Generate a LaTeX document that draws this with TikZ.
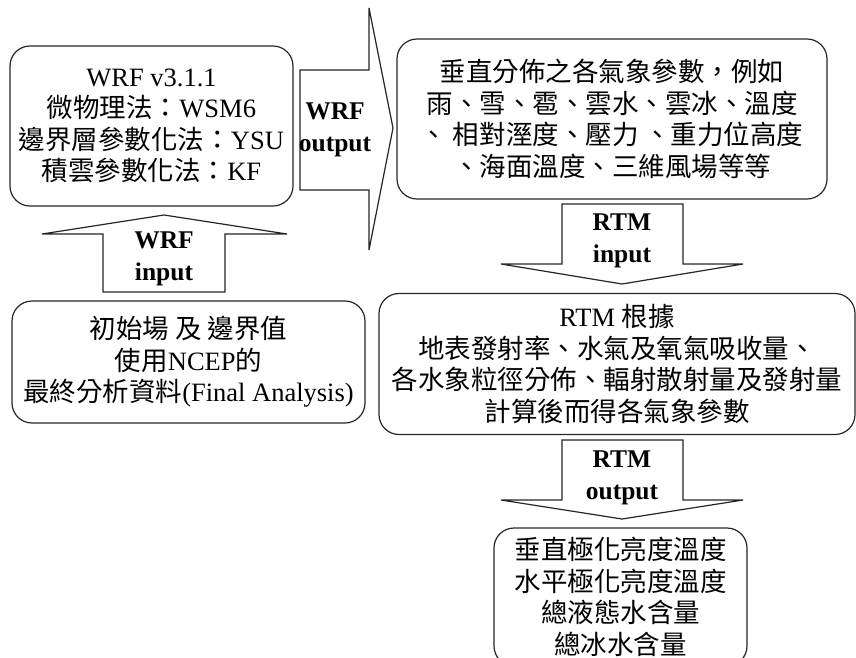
\documentclass[tikz,border=0pt]{standalone}
\usepackage{fontspec}
\setmainfont{Liberation Serif}
\newfontfamily\cjk{Noto Sans CJK TC}
\begin{document}
\begin{tikzpicture}[x=1pt,y=-1pt,
  box/.style={draw=black!85, rounded corners=20pt, line width=1.2pt, align=center,
    font=\fontsize{26.5}{31.5}\selectfont, inner sep=0pt},
  blockarrow/.style={draw=black!85, line width=1.2pt, fill=white, line join=miter},
  lbl/.style={font=\fontsize{25.5}{31.5}\selectfont\bfseries, align=center, inner sep=0pt}]
\useasboundingbox (0,0) rectangle (856,657);

% boxes
\node[box, minimum width=283pt, minimum height=160pt] (wrf) at (151.5,126)
  {WRF v3.1.1\\{\cjk 微物理法：}WSM6\\{\cjk 邊界層參數化法：}YSU\\{\cjk 積雲參數化法：}KF};
\node[box, minimum width=353pt, minimum height=122pt] (init) at (188.5,362)
  {{\cjk 初始場 及 邊界值}\\{\cjk 使用}NCEP{\cjk 的}\\{\cjk 最終分析資料}(Final Analysis)};
\node[box, minimum width=430pt, minimum height=160pt] (vert) at (612,119)
  {{\cjk 垂直分佈之各氣象參數，例如}\\{\cjk 雨、雪、雹、雲水、雲冰、溫度}\\{\cjk 、 相對溼度、壓力 、重力位高度}\\{\cjk 、海面溫度、三維風場等等}};
\node[box, minimum width=476pt, minimum height=141pt] (rtm) at (617,364)
  {RTM {\cjk 根據}\\{\cjk 地表發射率、水氣及氧氣吸收量、}\\{\cjk 各水象粒徑分佈、輻射散射量及發射量}\\{\cjk 計算後而得各氣象參數}};
\node[box, minimum width=253pt, minimum height=138pt] (out) at (620.5,597)
  {{\cjk 垂直極化亮度溫度}\\{\cjk 水平極化亮度溫度}\\{\cjk 總液態水含量}\\{\cjk 總冰水含量}};

% block arrows
\draw[blockarrow] (300,70) -- (369,70) -- (369,8) -- (393,128) -- (369,250) -- (369,190) -- (300,190) -- cycle;
\node[lbl] (wrfout) at (335,130) {WRF\\output};

\draw[blockarrow] (103,292) -- (103,234) -- (42,234) -- (164,215) -- (287,234) -- (225,234) -- (225,292) -- cycle;
\node[lbl] (wrfin) at (164,259) {WRF\\input};

\draw[blockarrow] (562,204) -- (683,204) -- (683,264) -- (743,264) -- (622,284) -- (501,264) -- (562,264) -- cycle;
\node[lbl] (rtmin) at (622,241) {RTM\\input};

\draw[blockarrow] (562,440) -- (683,440) -- (683,500) -- (743,500) -- (622,519) -- (501,500) -- (562,500) -- cycle;
\node[lbl] (rtmout) at (622,478) {RTM\\output};
\end{tikzpicture}
\end{document}
